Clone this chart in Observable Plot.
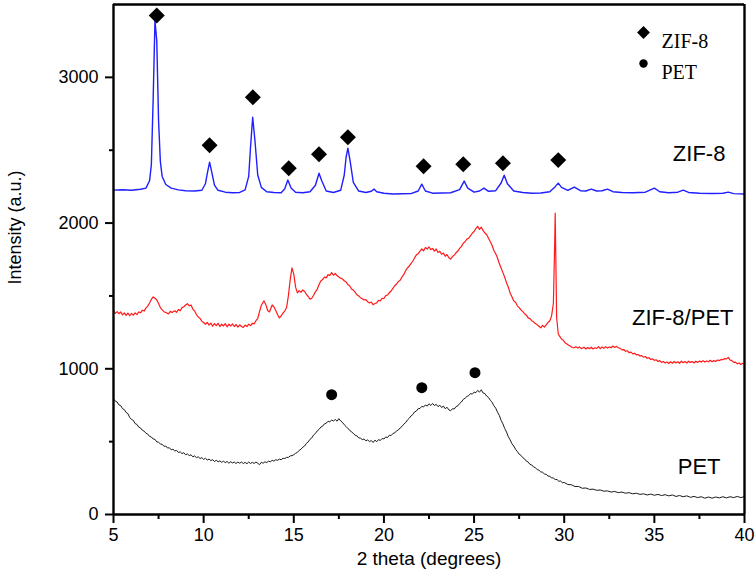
<!DOCTYPE html>
<html>
<head>
<meta charset="utf-8">
<script src="https://cdn.jsdelivr.net/npm/d3@7"></script>
<script src="https://cdn.jsdelivr.net/npm/@observablehq/plot@0.6"></script>
<style>
  html, body { margin: 0; padding: 0; background: #fff; }
  #chart svg { display: block; }
</style>
</head>
<body>
<div id="chart"></div>
<script>
// ZIF-8 pattern: [2θ (degrees), intensity (a.u.)]
const zif8 = [
  [5.0,2226],[5.5,2229],[6.0,2225],[6.5,2232],[6.8,2240],[7.0,2290],[7.1,2400],[7.2,2850],[7.3,3390],[7.4,3250],
  [7.5,2700],[7.6,2420],[7.7,2320],[7.9,2265],[8.2,2240],[8.6,2228],[9.0,2222],[9.5,2220],[9.9,2225],[10.1,2270],
  [10.2,2340],[10.33,2418],[10.45,2350],[10.6,2260],[10.8,2225],[11.2,2212],[11.6,2208],[12.0,2210],[12.3,2228],[12.5,2320],
  [12.6,2520],[12.72,2726],[12.85,2560],[13.0,2330],[13.2,2245],[13.5,2215],[13.9,2210],[14.3,2208],[14.5,2235],[14.67,2295],
  [14.85,2240],[15.1,2212],[15.5,2208],[15.9,2215],[16.2,2260],[16.4,2342],[16.55,2290],[16.8,2220],[17.2,2210],[17.6,2225],
  [17.8,2330],[17.9,2450],[18.0,2514],[18.12,2430],[18.3,2280],[18.6,2220],[19.0,2210],[19.3,2218],[19.45,2233],[19.6,2215],
  [20.0,2205],[20.5,2200],[21.0,2201],[21.5,2202],[21.9,2220],[22.1,2267],[22.3,2220],[22.7,2205],[23.2,2206],[23.7,2208],
  [24.2,2230],[24.45,2288],[24.65,2240],[25.0,2212],[25.3,2220],[25.55,2240],[25.8,2218],[26.2,2222],[26.5,2275],[26.67,2329],
  [26.85,2270],[27.2,2220],[27.7,2210],[28.2,2205],[28.7,2206],[29.2,2215],[29.5,2250],[29.67,2274],[29.85,2245],[30.2,2225],
  [30.56,2247],[30.9,2222],[31.2,2220],[31.5,2233],[31.8,2220],[32.1,2222],[32.4,2233],[32.7,2215],[33.2,2210],[33.8,2208],
  [34.5,2212],[35.0,2240],[35.3,2215],[35.8,2208],[36.3,2212],[36.6,2226],[36.9,2210],[37.5,2205],[38.2,2203],[38.8,2205],
  [39.1,2212],[39.4,2202],[40.0,2199]
];

// ZIF-8/PET composite pattern
const zif8Pet = [
  [5.0,1397],[5.1,1380],[5.2,1392],[5.3,1378],[5.4,1390],[5.5,1370],[5.6,1384],[5.7,1366],[5.8,1382],[5.9,1364],
  [6.0,1380],[6.1,1368],[6.2,1384],[6.3,1372],[6.4,1390],[6.5,1384],[6.6,1402],[6.7,1396],[6.8,1418],[6.9,1430],
  [7.0,1452],[7.1,1476],[7.2,1493],[7.3,1484],[7.4,1472],[7.5,1448],[7.6,1420],[7.7,1404],[7.8,1392],[7.9,1386],
  [8.05,1377],[8.15,1394],[8.25,1386],[8.4,1398],[8.5,1388],[8.6,1406],[8.7,1398],[8.8,1420],[8.9,1426],[9.0,1438],
  [9.1,1447],[9.2,1432],[9.3,1438],[9.4,1410],[9.5,1396],[9.6,1372],[9.7,1356],[9.8,1346],[9.9,1326],[10.0,1318],
  [10.1,1306],[10.2,1318],[10.3,1300],[10.4,1314],[10.5,1292],[10.6,1310],[10.7,1296],[10.8,1312],[10.9,1290],[11.0,1306],
  [11.1,1294],[11.2,1310],[11.3,1288],[11.4,1306],[11.5,1294],[11.6,1308],[11.7,1290],[11.8,1304],[11.9,1286],[12.0,1302],
  [12.1,1290],[12.2,1284],[12.3,1300],[12.4,1290],[12.5,1306],[12.6,1296],[12.7,1312],[12.8,1308],[12.9,1330],[13.0,1345],
  [13.1,1392],[13.2,1436],[13.35,1466],[13.45,1440],[13.55,1400],[13.65,1390],[13.8,1438],[13.9,1424],[14.0,1400],[14.1,1372],
  [14.2,1349],[14.3,1362],[14.4,1382],[14.5,1396],[14.6,1420],[14.7,1500],[14.8,1610],[14.9,1692],[15.0,1650],[15.1,1560],
  [15.2,1521],[15.3,1536],[15.4,1524],[15.5,1541],[15.6,1530],[15.7,1510],[15.8,1496],[15.9,1478],[16.0,1484],[16.1,1505],
  [16.2,1528],[16.3,1545],[16.4,1578],[16.5,1603],[16.6,1612],[16.7,1630],[16.8,1624],[16.9,1646],[17.0,1640],[17.1,1660],
  [17.2,1642],[17.3,1654],[17.4,1640],[17.5,1630],[17.6,1622],[17.7,1616],[17.8,1604],[17.9,1596],[18.0,1578],[18.1,1570],
  [18.2,1548],[18.3,1540],[18.4,1526],[18.5,1508],[18.6,1500],[18.7,1488],[18.8,1480],[18.9,1472],[19.0,1474],[19.1,1460],
  [19.2,1452],[19.3,1458],[19.4,1440],[19.5,1448],[19.6,1452],[19.7,1470],[19.8,1466],[19.9,1484],[20.0,1482],[20.1,1502],
  [20.2,1506],[20.3,1522],[20.4,1534],[20.5,1552],[20.6,1570],[20.7,1582],[20.8,1598],[20.9,1608],[21.0,1630],[21.1,1646],
  [21.2,1672],[21.3,1692],[21.4,1704],[21.5,1722],[21.6,1738],[21.7,1760],[21.8,1782],[21.9,1790],[22.0,1808],[22.1,1822],
  [22.2,1810],[22.3,1832],[22.4,1822],[22.5,1836],[22.6,1818],[22.7,1826],[22.8,1808],[22.9,1822],[23.0,1798],[23.1,1806],
  [23.2,1786],[23.3,1794],[23.4,1772],[23.5,1784],[23.6,1762],[23.7,1753],[23.8,1770],[23.9,1780],[24.0,1796],[24.1,1808],
  [24.2,1826],[24.3,1840],[24.4,1862],[24.5,1872],[24.6,1890],[24.7,1896],[24.8,1912],[24.9,1930],[25.0,1942],[25.1,1962],
  [25.2,1978],[25.3,1956],[25.4,1972],[25.5,1948],[25.6,1932],[25.7,1920],[25.8,1896],[25.9,1872],[26.0,1846],[26.1,1812],
  [26.2,1790],[26.3,1760],[26.4,1722],[26.5,1692],[26.6,1660],[26.7,1628],[26.8,1590],[26.9,1560],[27.0,1520],[27.1,1494],
  [27.2,1466],[27.3,1456],[27.4,1432],[27.5,1420],[27.6,1404],[27.7,1392],[27.8,1378],[27.9,1368],[28.0,1349],[28.1,1344],
  [28.2,1330],[28.3,1322],[28.4,1310],[28.5,1302],[28.6,1292],[28.7,1281],[28.8,1298],[28.9,1286],[29.0,1302],[29.1,1318],
  [29.2,1330],[29.3,1363],[29.4,1450],[29.47,1850],[29.5,2068],[29.53,1800],[29.58,1350],[29.67,1240],[29.75,1222],[29.85,1205],
  [29.95,1196],[30.05,1178],[30.15,1170],[30.25,1162],[30.35,1154],[30.45,1146],[30.55,1144],[30.65,1152],[30.75,1142],[30.85,1150],
  [30.95,1138],[31.1,1148],[31.2,1136],[31.3,1146],[31.4,1138],[31.5,1148],[31.6,1136],[31.7,1144],[31.8,1140],[31.9,1152],
  [32.0,1138],[32.1,1150],[32.2,1140],[32.3,1152],[32.4,1142],[32.5,1150],[32.6,1144],[32.7,1156],[32.8,1146],[32.9,1154],
  [33.0,1144],[33.1,1140],[33.2,1130],[33.3,1132],[33.4,1120],[33.5,1124],[33.6,1110],[33.7,1114],[33.8,1102],[33.9,1106],
  [34.0,1096],[34.1,1098],[34.2,1088],[34.3,1090],[34.4,1080],[34.5,1084],[34.6,1072],[34.7,1076],[34.8,1064],[34.9,1068],
  [35.0,1058],[35.1,1062],[35.2,1050],[35.3,1056],[35.4,1044],[35.5,1050],[35.6,1040],[35.7,1046],[35.8,1036],[35.9,1048],
  [36.0,1038],[36.1,1050],[36.2,1040],[36.3,1048],[36.4,1038],[36.5,1052],[36.6,1042],[36.7,1050],[36.8,1040],[36.9,1052],
  [37.0,1044],[37.1,1050],[37.2,1040],[37.3,1052],[37.4,1044],[37.5,1054],[37.6,1046],[37.7,1056],[37.8,1046],[37.9,1054],
  [38.0,1048],[38.1,1058],[38.2,1048],[38.3,1056],[38.4,1050],[38.5,1060],[38.6,1056],[38.7,1064],[38.8,1062],[38.9,1070],
  [39.0,1068],[39.1,1078],[39.2,1060],[39.3,1056],[39.4,1044],[39.5,1046],[39.6,1034],[39.7,1040],[39.8,1030],[39.9,1038],
  [40.0,1034]
];

// PET pattern
const pet = [
  [5.0,795],[5.1,778],[5.2,772],[5.3,752],[5.4,748],[5.5,726],[5.6,720],[5.7,700],[5.8,692],[5.9,666],
  [6.0,652],[6.1,646],[6.2,624],[6.3,618],[6.4,600],[6.5,594],[6.6,578],[6.7,572],[6.8,558],[6.9,552],
  [7.0,536],[7.1,532],[7.2,518],[7.3,516],[7.4,498],[7.5,496],[7.6,484],[7.7,482],[7.8,468],[7.9,470],
  [8.0,456],[8.1,458],[8.2,444],[8.3,448],[8.4,436],[8.5,440],[8.6,426],[8.7,430],[8.8,418],[8.9,424],
  [9.0,410],[9.1,416],[9.2,404],[9.3,410],[9.4,396],[9.5,402],[9.6,390],[9.7,396],[9.8,384],[9.9,390],
  [10.0,378],[10.1,386],[10.2,374],[10.3,380],[10.4,370],[10.5,376],[10.6,364],[10.7,372],[10.8,362],[10.9,368],
  [11.0,358],[11.1,366],[11.2,356],[11.3,364],[11.4,352],[11.5,362],[11.6,354],[11.7,360],[11.8,350],[11.9,360],
  [12.0,352],[12.1,360],[12.2,350],[12.3,358],[12.4,348],[12.5,360],[12.6,350],[12.7,358],[12.8,350],[12.9,360],
  [13.0,352],[13.1,342],[13.2,358],[13.3,352],[13.4,362],[13.5,356],[13.6,366],[13.7,362],[13.8,372],[13.9,366],
  [14.0,376],[14.1,372],[14.2,380],[14.3,376],[14.4,386],[14.5,384],[14.6,392],[14.7,392],[14.8,402],[14.9,404],
  [15.0,410],[15.1,420],[15.2,426],[15.3,440],[15.4,448],[15.5,462],[15.6,470],[15.7,488],[15.8,498],[15.9,516],
  [16.0,526],[16.1,546],[16.2,556],[16.3,574],[16.4,584],[16.5,600],[16.6,606],[16.7,622],[16.8,626],[16.9,640],
  [17.0,636],[17.1,648],[17.2,642],[17.3,652],[17.4,640],[17.5,658],[17.6,642],[17.7,632],[17.8,616],[17.9,604],
  [18.0,590],[18.1,580],[18.2,566],[18.3,558],[18.4,544],[18.5,540],[18.6,526],[18.7,524],[18.8,514],[18.9,518],
  [19.0,506],[19.1,512],[19.2,500],[19.3,508],[19.4,494],[19.5,510],[19.6,500],[19.7,514],[19.8,508],[19.9,522],
  [20.0,518],[20.1,532],[20.2,528],[20.3,544],[20.4,542],[20.5,556],[20.6,560],[20.7,574],[20.8,580],[20.9,594],
  [21.0,604],[21.1,620],[21.2,630],[21.3,648],[21.4,660],[21.5,676],[21.6,686],[21.7,704],[21.8,710],[21.9,726],
  [22.0,728],[22.1,742],[22.2,738],[22.3,752],[22.4,744],[22.5,760],[22.6,748],[22.7,762],[22.8,748],[22.9,756],
  [23.0,740],[23.1,750],[23.2,734],[23.3,744],[23.4,726],[23.5,736],[23.6,718],[23.7,712],[23.8,726],[23.9,724],
  [24.0,740],[24.1,746],[24.2,762],[24.3,772],[24.4,790],[24.5,798],[24.6,810],[24.7,816],[24.8,830],[24.9,826],
  [25.0,840],[25.1,836],[25.2,852],[25.3,840],[25.4,856],[25.5,834],[25.6,830],[25.7,812],[25.8,804],[25.9,784],
  [26.0,770],[26.1,746],[26.2,730],[26.3,702],[26.4,680],[26.5,646],[26.6,622],[26.7,590],[26.8,566],[26.9,534],
  [27.0,512],[27.1,486],[27.2,470],[27.3,448],[27.4,432],[27.5,414],[27.6,406],[27.7,390],[27.8,382],[27.9,366],
  [28.0,360],[28.1,344],[28.2,340],[28.3,326],[28.4,322],[28.5,308],[28.6,304],[28.7,292],[28.8,290],[28.9,278],
  [29.0,276],[29.1,264],[29.2,262],[29.3,252],[29.4,250],[29.5,240],[29.6,240],[29.7,228],[29.8,230],[29.9,218],
  [30.0,220],[30.2,206],[30.4,204],[30.6,192],[30.8,192],[31.0,180],[31.2,182],[31.4,172],[31.6,174],[31.8,166],
  [32.0,168],[32.2,160],[32.4,162],[32.6,154],[32.8,158],[33.0,150],[33.2,154],[33.4,146],[33.6,150],[33.8,142],
  [34.0,146],[34.2,138],[34.4,142],[34.6,134],[34.8,140],[35.0,132],[35.2,138],[35.4,130],[35.6,136],[35.8,128],
  [36.0,134],[36.2,124],[36.4,130],[36.6,122],[36.8,128],[37.0,118],[37.2,124],[37.4,116],[37.6,122],[37.8,112],
  [38.0,120],[38.2,112],[38.4,120],[38.6,114],[38.8,122],[39.0,114],[39.2,122],[39.4,116],[39.6,124],[39.8,116],
  [40.0,123]
];

// peak markers
const zifPeakAngle = [7.4, 10.33, 12.73, 14.72, 16.4, 18.0, 22.2, 24.4, 26.6, 29.67];
const zifPeakMark  = [3425, 2534, 2863, 2377, 2473, 2589, 2390, 2404, 2411, 2432];
const petPeakAngle = [17.1, 22.1, 25.05];
const petPeakMark  = [822, 870, 973];

// curve labels (right-aligned)
const curveNames = ["ZIF-8", "ZIF-8/PET", "PET"];
const curveLabelAngle = [38.94, 39.39, 38.67];
const curveLabelIntensity = [2471, 1352, 323];

// legend entries
const legendNames = ["ZIF-8", "PET"];

// axis ticks and extents
const xDomain = [5, 40];
const yDomain = [0, 3500];
const xMajor = [5, 10, 15, 20, 25, 30, 35, 40];
const xMinor = [7.5, 12.5, 17.5, 22.5, 27.5, 32.5, 37.5];
const yMajor = [0, 1000, 2000, 3000];
const yMinor = [500, 1500, 2500];

const toRows = arr => arr.map(([angle, intensity]) => ({angle, intensity}));
const zifMarks = zifPeakAngle.map((a, i) => ({angle: a, intensity: zifPeakMark[i]}));
const petMarks = petPeakAngle.map((a, i) => ({angle: a, intensity: petPeakMark[i]}));
const curveLabels = curveNames.map((n, i) => ({name: n, angle: curveLabelAngle[i], intensity: curveLabelIntensity[i]}));

const font = "'Liberation Sans', Arial, Helvetica, sans-serif";
const serif = "'Liberation Serif', 'Times New Roman', serif";

const chart = Plot.plot({
  width: 756,
  height: 575,
  marginLeft: 113,
  marginRight: 12,
  marginTop: 4,
  marginBottom: 61,
  style: {fontFamily: font, background: "#fff", color: "#000"},
  x: {domain: xDomain},
  y: {domain: yDomain},
  marks: [
    Plot.line(toRows(pet), {x: "angle", y: "intensity", stroke: "#1a1a1a", strokeWidth: 1}),
    Plot.line(toRows(zif8Pet), {x: "angle", y: "intensity", stroke: "#ff1a1a", strokeWidth: 1.2}),
    Plot.line(toRows(zif8), {x: "angle", y: "intensity", stroke: "#1f1fff", strokeWidth: 1.4}),
    Plot.dot(zifMarks, {x: "angle", y: "intensity", symbol: "diamond2", r: 7.2, fill: "#000"}),
    Plot.dot(petMarks, {x: "angle", y: "intensity", symbol: "circle", r: 5.5, fill: "#000"}),
    Plot.text(curveLabels, {x: "angle", y: "intensity", text: "name", textAnchor: "end", fontSize: 22, fill: "#000"}),
    // legend
    Plot.dot([legendNames[0]], {frameAnchor: "top-right", dx: -101, dy: 28, symbol: "diamond2", r: 5.8, fill: "#000"}),
    Plot.dot([legendNames[1]], {frameAnchor: "top-right", dx: -101, dy: 59, symbol: "circle", r: 4.2, fill: "#000"}),
    Plot.text([legendNames[0]], {frameAnchor: "top-right", dx: -83, dy: 29, textAnchor: "start", fontSize: 20, fontFamily: serif, fill: "#000"}),
    Plot.text([legendNames[1]], {frameAnchor: "top-right", dx: -83, dy: 60, textAnchor: "start", fontSize: 20, fontFamily: serif, fill: "#000"}),
    // axes
    Plot.axisY({ticks: yMajor, tickFormat: d => String(d), tickSize: 8, tickPadding: 7, fontSize: 18, label: null, strokeWidth: 2, stroke: "#000"}),
    Plot.axisY({ticks: yMinor, tickSize: 4, text: null, label: null, strokeWidth: 2, stroke: "#000"}),
    Plot.axisX({ticks: xMajor, tickFormat: d => String(d), tickSize: 9, tickPadding: 5, fontSize: 18, label: null, strokeWidth: 2, stroke: "#000"}),
    Plot.axisX({ticks: xMinor, tickSize: 5, text: null, label: null, strokeWidth: 2, stroke: "#000"}),
    // plot box
    Plot.ruleX(xDomain, {stroke: "#000", strokeWidth: 2.4}),
    Plot.ruleY(yDomain, {stroke: "#000", strokeWidth: 2.4}),
    Plot.text(["Intensity (a.u.)"], {frameAnchor: "left", rotate: -90, dx: -98, dy: 25, fontSize: 18, fill: "#000"}),
    Plot.text(["2 theta (degrees)"], {frameAnchor: "bottom", dy: 50, fontSize: 19, fill: "#000"})
  ]
});
document.getElementById("chart").appendChild(chart);
</script>
</body>
</html>
